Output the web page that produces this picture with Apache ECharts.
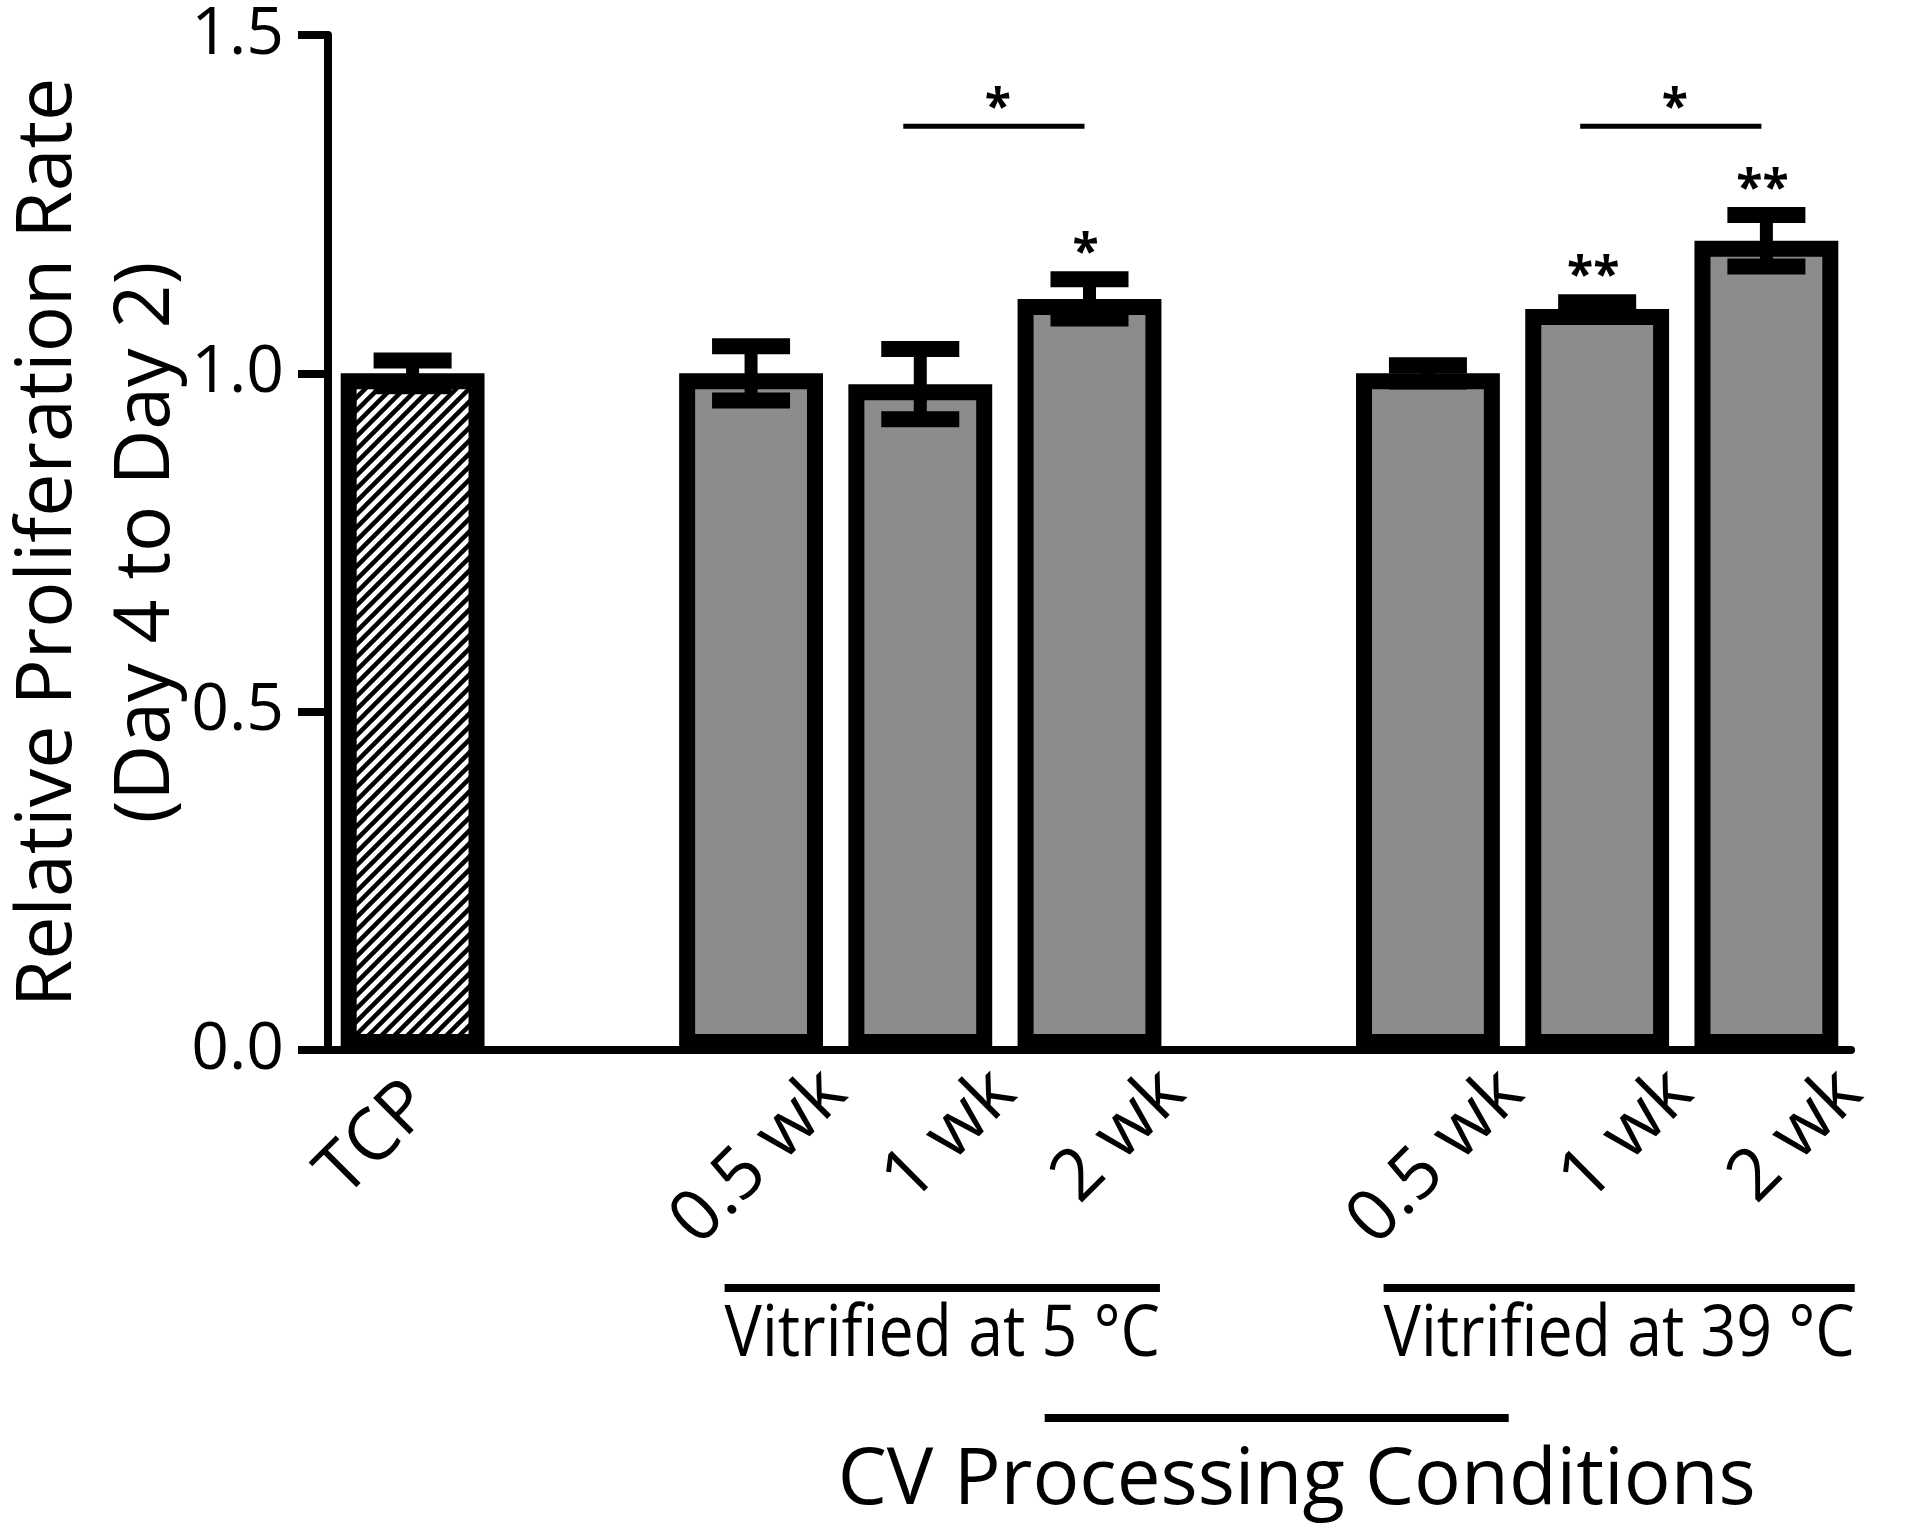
<!DOCTYPE html>
<html><head><meta charset="utf-8">
<script src="https://cdn.jsdelivr.net/npm/echarts@6/dist/echarts.min.js"></script>
<style>html,body{margin:0;padding:0;background:#fff}#c{width:1920px;height:1528px}</style>
</head><body><div id="c"></div>
<script>
// ---------------- data ----------------
const categories   = ['TCP', '', '0.5 wk', '1 wk', '2 wk', '', '0.5 wk', '1 wk', '2 wk'];
const meanValues   = [1.00, null, 1.00, 0.984, 1.11, null, 1.00, 1.095, 1.196];
const errorValues  = [0.019, null, 0.040, 0.052, 0.029, null, 0.012, 0.010, 0.038];
const starLabels   = ['', '', '', '', '*', '', '', '**', '**'];
const yTickLabels  = ['0.0', '0.5', '1.0', '1.5'];
const compareFrom  = [3, 7];
const compareTo    = [4, 8];
const compareStars = ['*', '*'];
const compareLevel = 1.365;
const groupNames   = ['Vitrified at 5 \u00B0C', 'Vitrified at 39 \u00B0C'];
const groupFrom    = [2, 6];
const groupTo      = [4, 8];
const xTitle       = 'CV Processing Conditions';
const yTitle       = ['Relative Proliferation Rate', '(Day 4 to Day 2)'];
const hatchedCategories = ['TCP'];

// ---------------- style ----------------
const FONT = '"Open Sans", "Noto Sans", sans-serif';
const GRAY = '#8c8c8c';

function hatchCanvas() {
  const s = 13;
  const c = document.createElement('canvas');
  c.width = s; c.height = s;
  const ctx = c.getContext('2d');
  ctx.fillStyle = '#fff'; ctx.fillRect(0, 0, s, s);
  ctx.strokeStyle = '#000'; ctx.lineWidth = 4.5;
  ctx.beginPath();
  ctx.moveTo(-2, 2); ctx.lineTo(2, -2);
  ctx.moveTo(0, s); ctx.lineTo(s, 0);
  ctx.moveTo(s - 2, s + 2); ctx.lineTo(s + 2, s - 2);
  ctx.stroke();
  return c;
}
const hatch = hatchCanvas();

const barData = meanValues.map((v, i) => v == null ? null : {
  value: v,
  itemStyle: hatchedCategories.includes(categories[i]) ? { color: { image: hatch, repeat: 'repeat' } } : {}
});
const errData = [];
meanValues.forEach((v, i) => { if (v != null) errData.push([i, v, errorValues[i]]); });
const starData = [];
starLabels.forEach((s, i) => { if (s) starData.push([i, meanValues[i] + errorValues[i]]); });
const starText = starLabels.filter(s => s);
const labelData = [];
categories.forEach((c, i) => { if (c) labelData.push([i, 0]); });
const labelText = categories.filter(c => c);

const measureCtx = document.createElement('canvas').getContext('2d');
function textWidth(t, size, weight) {
  measureCtx.font = (weight || 'normal') + ' ' + size + 'px ' + FONT;
  return measureCtx.measureText(t).width;
}

const GROUP_FONT = 72, GROUP_SCALE = 0.87;
const XLABEL_FONT = 72;

const option = {
  backgroundColor: '#fff',
  animation: false,
  grid: { left: 328, right: 69, top: 35, bottom: 478, containLabel: false, outerBoundsMode: 'none' },
  xAxis: {
    type: 'category', data: categories, z: 4,
    axisLine: { show: true, lineStyle: { color: '#000', width: 8 } },
    axisTick: { show: false },
    axisLabel: { show: false },
    splitLine: { show: false }
  },
  yAxis: {
    type: 'value', min: 0, max: 1.5, interval: 0.5, z: 4,
    axisLine: { show: true, lineStyle: { color: '#000', width: 8 } },
    axisTick: { show: true, length: 30, lineStyle: { color: '#000', width: 8 } },
    splitLine: { show: false },
    axisLabel: {
      fontSize: 66, color: '#000', fontFamily: FONT, margin: 44,
      formatter: v => yTickLabels[Math.round(v / 0.5)]
    },
    name: yTitle.join('\n'), nameLocation: 'middle', nameRotate: 90, nameGap: 132,
    nameMoveOverlap: false,
    nameTextStyle: { fontSize: 77, lineHeight: 98, color: '#000', fontFamily: FONT }
  },
  series: [
    {
      type: 'bar', data: barData, barWidth: '85%', z: 2,
      itemStyle: { color: GRAY, borderColor: '#000', borderWidth: 16 },
      silent: true
    },
    {
      type: 'custom', z: 5, silent: true, data: errData, encode: { x: 0, y: 1 },
      renderItem: (params, api) => {
        const i = api.value(0), m = api.value(1), e = api.value(2);
        const t = api.coord([i, m + e]), b = api.coord([i, m - e]);
        const ch = 39;
        return { type: 'group', children: [
          { type: 'line', shape: { x1: t[0], y1: t[1], x2: b[0], y2: b[1] }, style: { stroke: '#000', lineWidth: 13 } },
          { type: 'line', shape: { x1: t[0] - ch, y1: t[1], x2: t[0] + ch, y2: t[1] }, style: { stroke: '#000', lineWidth: 16 } },
          { type: 'line', shape: { x1: b[0] - ch, y1: b[1], x2: b[0] + ch, y2: b[1] }, style: { stroke: '#000', lineWidth: 16 } }
        ]};
      }
    },
    {
      type: 'custom', z: 5, silent: true, data: starData, encode: { x: 0, y: 1 },
      renderItem: (params, api) => {
        const p = api.coord([api.value(0), api.value(1)]);
        return { type: 'text', x: p[0] - 4, y: p[1] - 25,
          style: { text: starText[params.dataIndex], fontSize: 48, fontWeight: 'bold', fontFamily: FONT,
                   fill: '#000', align: 'center', verticalAlign: 'middle' } };
      }
    },
    {
      type: 'custom', z: 5, silent: true, data: labelData, encode: { x: 0, y: 1 },
      renderItem: (params, api) => {
        const p = api.coord([api.value(0), 0]);
        const txt = labelText[params.dataIndex];
        const off = txt === 'TCP' ? [8, 44] : [84, 32];
        return { type: 'text', x: p[0] + off[0], y: p[1] + off[1], rotation: Math.PI / 4,
          style: { text: txt, fontSize: XLABEL_FONT, fontFamily: FONT, fill: '#000', align: 'right', verticalAlign: 'middle' } };
      }
    },
    {
      type: 'custom', z: 5, silent: true,
      data: compareFrom.map((f, k) => [f, compareLevel, compareTo[k]]), encode: { x: 0, y: 1 },
      renderItem: (params, api) => {
        const a = api.coord([api.value(0), api.value(1)]);
        const b = api.coord([api.value(2), api.value(1)]);
        const x1 = a[0] - 17, x2 = b[0] - 5;
        return { type: 'group', children: [
          { type: 'line', shape: { x1: x1, y1: a[1], x2: x2, y2: a[1] }, style: { stroke: '#000', lineWidth: 5 } },
          { type: 'text', x: (x1 + x2) / 2 + 4, y: a[1] - 17,
            style: { text: compareStars[params.dataIndex], fontSize: 48, fontWeight: 'bold', fontFamily: FONT,
                     fill: '#000', align: 'center', verticalAlign: 'middle' } }
        ]};
      }
    },
    {
      type: 'custom', z: 5, silent: true,
      data: groupFrom.map((f, k) => [f, 0, groupTo[k]]), encode: { x: 0, y: 1 },
      renderItem: (params, api) => {
        const a = api.coord([api.value(0), 0]);
        const b = api.coord([api.value(2), 0]);
        const txt = groupNames[params.dataIndex];
        const mid = (a[0] + b[0]) / 2 + 22;
        const w = textWidth(txt, GROUP_FONT) * GROUP_SCALE;
        return { type: 'group', children: [
          { type: 'line', shape: { x1: mid - w / 2, y1: a[1] + 238, x2: mid + w / 2, y2: a[1] + 238 }, style: { stroke: '#000', lineWidth: 8 } },
          { type: 'text', x: mid, y: a[1] + 285, scaleX: GROUP_SCALE,
            style: { text: txt, fontSize: GROUP_FONT, fontFamily: FONT, fill: '#000', align: 'center', verticalAlign: 'middle' } }
        ]};
      }
    },
    {
      type: 'custom', z: 5, silent: true,
      data: [[groupFrom[0], 0, groupTo[groupTo.length - 1]]], encode: { x: 0, y: 1 },
      renderItem: (params, api) => {
        const a = api.coord([api.value(0), 0]);
        const b = api.coord([api.value(2), 0]);
        const mid = (a[0] + b[0]) / 2;
        return { type: 'group', children: [
          { type: 'line', shape: { x1: mid + 18 - 232, y1: a[1] + 368, x2: mid + 18 + 232, y2: a[1] + 368 }, style: { stroke: '#000', lineWidth: 8 } },
          { type: 'text', x: mid + 38, y: a[1] + 432,
            style: { text: xTitle, fontSize: 78, fontFamily: FONT, fill: '#000', align: 'center', verticalAlign: 'middle' } }
        ]};
      }
    }
  ]
};

const chart = echarts.init(document.getElementById('c'), null, { renderer: 'canvas' });
chart.setOption(option);
</script>
</body></html>
